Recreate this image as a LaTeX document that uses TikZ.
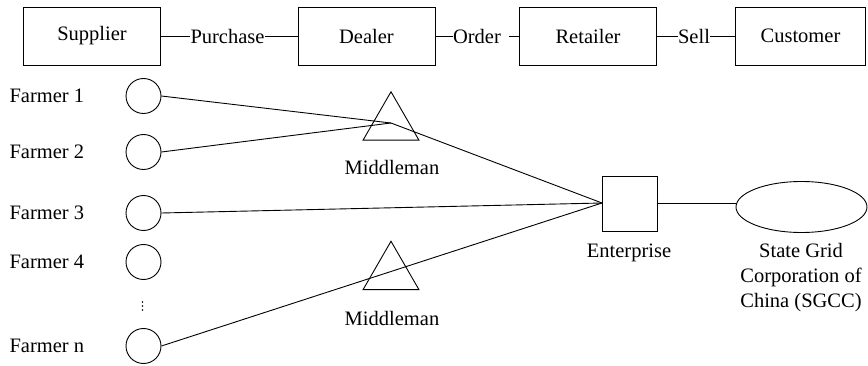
\documentclass[tikz,border=0pt]{standalone}
\usepackage{fontspec}
\setmainfont{Liberation Serif}
\newfontfamily\diagfont{Liberation Serif}
\usetikzlibrary{shapes.geometric}
\begin{document}
\begin{tikzpicture}[x=1pt,y=-1pt,
  every node/.style={font=\diagfont\fontsize{20.5}{25}\selectfont},
  ln/.style={line width=0.9pt},
  box/.style={draw, line width=0.9pt, minimum width=137pt, minimum height=58pt, inner sep=0},
  lbl/.style={inner sep=0},
  farm/.style={draw, circle, line width=0.9pt, minimum size=35pt, inner sep=0},
  tri/.style={draw, regular polygon, regular polygon sides=3, line width=0.9pt, minimum size=64.5pt, inner sep=0},
  ent/.style={draw, line width=0.9pt, minimum size=55pt, inner sep=0},
  ell/.style={draw, ellipse, line width=0.9pt, minimum width=131pt, minimum height=51pt, inner sep=0},
  dot/.style={fill, circle, minimum size=1.8pt, inner sep=0}]
\useasboundingbox (0,0) rectangle (868,366);
% top chain
\node[box] (sup) at (92,36) {Supplier};
\node[box] (dea) at (366.5,36) {Dealer};
\node[box] (ret) at (588,36) {Retailer};
\node[box, minimum width=130pt] (cus) at (800.5,36) {Customer};
\node[lbl] (pur) at (227.5,36) {Purchase};
\node[lbl] (ord) at (477,36) {Order};
\node[lbl] (sel) at (694,36) {Sell};
\draw[ln] (sup.east) -- (pur.west);
\draw[ln] (pur.east) -- (dea.west);
\draw[ln] (dea.east) -- (ord.west);
\draw[ln] ([xshift=8pt]ord.east) -- (ret.west);
\draw[ln] (ret.east) -- (sel.west);
\draw[ln] (sel.east) -- (cus.west);
% farmers
\node[farm] (f1) at (143.5,96) {};
\node[farm] (f2) at (143.5,152) {};
\node[farm] (f3) at (143.5,213) {};
\node[farm] (f4) at (143.5,262) {};
\node[farm] (fn) at (143.5,346) {};
\node[anchor=west] (l1) at (6,96) {Farmer 1};
\node[anchor=west] (l2) at (6,152) {Farmer 2};
\node[anchor=west] (l3) at (6,213) {Farmer 3};
\node[anchor=west] (l4) at (6,262) {Farmer 4};
\node[anchor=west] (ln) at (6,346) {Farmer n};
\node[dot] (d1) at (142.5,302) {};
\node[dot] (d2) at (142.5,306) {};
\node[dot] (d3) at (142.5,310) {};
% middlemen
\node[tri] (m1) at (391,124) {};
\node[tri] (m2) at (391,273.5) {};
\node (m1l) at (392,167) {Middleman};
\node (m2l) at (392,318) {Middleman};
\coordinate (j1) at (391,123);
% enterprise and SGCC
\node[ent] (en) at (629.5,203.5) {};
\node (enl) at (629,253) {Enterprise};
\node[ell] (sg) at (801.5,207) {};
\node[align=center] (sgl) at (801,278) {State Grid\\Corporation of\\China (SGCC)};
\coordinate (ein) at (602,203);
% connectors
\draw[ln] (f1.east) -- (j1) -- (ein);
\draw[ln] (f2.east) -- (j1);
\draw[ln] (f3.east) -- (ein);
\draw[ln] (fn.east) -- (ein);
\draw[ln] (en.east |- ein) -- (sg.west |- ein);
\end{tikzpicture}
\end{document}
